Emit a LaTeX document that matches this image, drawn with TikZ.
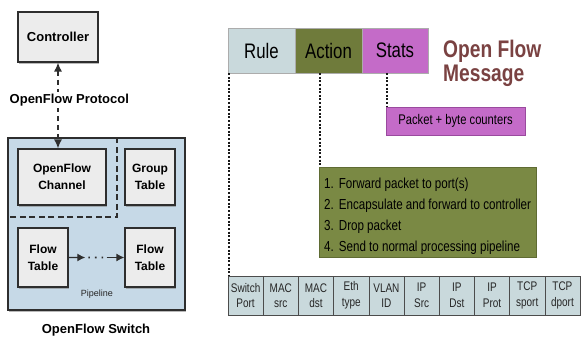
\documentclass[tikz,border=0pt]{standalone}
\usepackage{fontspec}
\setmainfont{Liberation Sans}
\newfontfamily\narrowfont[FakeStretch=0.8]{Liberation Sans}
\usetikzlibrary{arrows.meta,shadows,calc}

\definecolor{switchc}{HTML}{C6D9E7}
\definecolor{boxc}{HTML}{ECECEC}
\definecolor{edgec}{HTML}{2E2E2E}
\definecolor{rulec}{HTML}{C9D9DC}
\definecolor{actc}{HTML}{6F7B3B}
\definecolor{statc}{HTML}{C46BC8}
\definecolor{statd}{HTML}{9A4A9E}
\definecolor{greenc}{HTML}{7A8944}
\definecolor{greend}{HTML}{5F6B33}
\definecolor{msgc}{HTML}{7A4242}
\definecolor{tblc}{HTML}{C9D9DC}

\tikzset{
  lbox/.style={draw=edgec, fill=boxc, line width=1.2pt, align=center, inner sep=0pt,
    drop shadow={shadow xshift=1.2pt, shadow yshift=-1.6pt, opacity=0.55},
    font=\bfseries\fontsize{12}{17}\selectfont},
  swbox/.style={draw=edgec, fill=switchc, line width=1.2pt, inner sep=0pt,
    drop shadow={shadow xshift=1.2pt, shadow yshift=-1.6pt, opacity=0.55}},
  hdr/.style={draw=gray!65, line width=0.6pt, minimum height=45pt, inner sep=0pt,
    font=\narrowfont\fontsize{21}{24}\selectfont},
  cell/.style={draw=gray!60!black, line width=0.6pt, fill=tblc, minimum width=35.2pt,
    minimum height=39pt, inner sep=0pt, align=center, text=black!85,
    font=\narrowfont\fontsize{12.5}{15.5}\selectfont},
  dotline/.style={line width=2.2pt, black!90, dash pattern=on 2pt off 1.6pt},
  protoarrow/.style={line width=1.3pt, edgec, dash pattern=on 5pt off 4pt,
    {Latex[length=9pt,width=8pt]}-{Latex[length=9pt,width=8pt]}},
  pipearrow/.style={line width=1.3pt, edgec, -{Latex[length=8pt,width=8pt]}},
}

\begin{document}
\begin{tikzpicture}[x=1pt, y=-1pt]
\useasboundingbox (0,0) rectangle (581,344);
\fill[white] (0,0) rectangle (581,344);

% ---------- OpenFlow switch and controller ----------
\node[lbox, minimum width=80pt, minimum height=50pt, font=\bfseries\fontsize{13}{15}\selectfont]
  (ctrl) at (58,37) {Controller};

\node[swbox, minimum width=177pt, minimum height=172pt] (sw) at (96.5,224) {};

\node[lbox, minimum width=88pt, minimum height=56pt] (chan) at (62,177) {OpenFlow\\Channel};
\node[lbox, minimum width=50pt, minimum height=56pt] (grp) at (150,177) {Group\\Table};

% dashed split between channel, group table and pipeline
\coordinate (split) at (117,217);
\draw[line width=1.3pt, edgec, dash pattern=on 6pt off 3.5pt]
  (split |- sw.north) -- (split) -- (split -| sw.west);

\node[lbox, minimum width=50pt, minimum height=59pt] (ft1) at (43,257.5) {Flow\\Table};
\node[lbox, minimum width=50pt, minimum height=59pt] (ft2) at (150,257.5) {Flow\\Table};

% pipeline arrow: dash with head, dots, dash with head
\coordinate (pa) at ($(ft1.east)!0.30!(ft2.west)$);
\coordinate (pb) at ($(ft1.east)!0.68!(ft2.west)$);
\draw[pipearrow] (ft1.east) -- (pa);
\draw[line width=1.6pt, edgec, dash pattern=on 1.6pt off 5pt] ([xshift=3pt]pa) -- (pb);
\draw[pipearrow] (pb) -- (ft2.west);

\node[font=\fontsize{9}{10}\selectfont, text=black!85] (pipe) at (97,294) {Pipeline};
\node[font=\bfseries\fontsize{13}{15}\selectfont] (swlabel) at (96,330) {OpenFlow Switch};

% controller <-> channel
\draw[protoarrow] (ctrl.south) -- (ctrl.south |- chan.north);
\node[fill=white, inner sep=1.5pt, anchor=west, font=\bfseries\fontsize{13}{15}\selectfont]
  (proto) at (8,100) {OpenFlow Protocol};

% ---------- flow table entry ----------
\node[hdr, fill=rulec, minimum width=67pt] (rule) at (261.5,50.5) {Rule};
\node[hdr, fill=actc, minimum width=67pt] (act) at (328.5,50.5) {Action};
\node[hdr, fill=statc, minimum width=66pt] (stats) at (395,50.5) {Stats};

\node[anchor=base west, text=msgc, inner sep=0pt, font=\narrowfont\bfseries\fontsize{24}{24}\selectfont]
  (msg1) at (443,58) {Open Flow};
\node[anchor=base west, text=msgc, inner sep=0pt, font=\narrowfont\bfseries\fontsize{24}{24}\selectfont]
  (msg2) at (443,82) {Message};

\node[fill=statc, draw=statd, line width=0.8pt, minimum width=139pt, minimum height=28pt,
  inner sep=0pt, font=\narrowfont\fontsize{14}{16}\selectfont]
  (pkt) at (455.5,121) {Packet + byte counters};

\node[fill=greenc, draw=greend, line width=0.8pt, minimum width=217pt, minimum height=90pt]
  (acts) at (427.5,212) {};
\node[anchor=north west, inner sep=0pt, font=\narrowfont\fontsize{14.5}{21}\selectfont]
  (actlist) at (324,173.3) {%
  \begin{tabular}{@{}l@{\hspace{5pt}}l@{}}
  1. & Forward packet to port(s)\\
  2. & Encapsulate and forward to controller\\
  3. & Drop packet\\
  4. & Send to normal processing pipeline
  \end{tabular}};

% header fields
\foreach \t [count=\i] in {{Switch\\Port},{MAC\\src},{MAC\\dst},{Eth\\type},{VLAN\\ID},
    {IP\\Src},{IP\\Dst},{IP\\Prot},{TCP\\sport},{TCP\\dport}}
  \node[cell] (c\i) at ({228+35.2*(\i-0.5)},295.5) {\t};

% dotted leaders
\draw[dotline] ([xshift=1.2pt]c1.north west |- rule.south) -- ([xshift=1.2pt]c1.north west);
\draw[dotline] ([xshift=1.2pt]acts.north west |- act.south) -- ([xshift=1.2pt]acts.north west);
\draw[dotline] ([xshift=1.2pt]pkt.north west |- stats.south) -- ([xshift=1.2pt]pkt.north west);
\end{tikzpicture}
\end{document}
